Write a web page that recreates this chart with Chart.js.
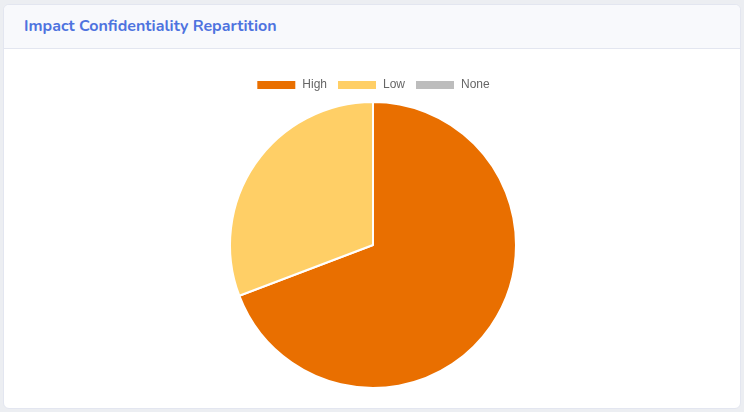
<!DOCTYPE html>
<html>
<head>
<meta charset="utf-8">
<script src="https://cdn.jsdelivr.net/npm/chart.js@4"></script>
<style>
  html, body { margin: 0; padding: 0; background: #eceef2; width: 744px; height: 412px; overflow: hidden; }
  .card { position: absolute; left: 3px; top: 4px; width: 736px; height: 403px; background: #fff; border: 1px solid #e3e6f0; border-radius: 6px; overflow: hidden; }
  .card-header { height: 43px; background: #f8f9fc; border-bottom: 1px solid #e3e6f0; }
  .card-header h6 { margin: 0; padding: 11px 0 0 20px; font-family: Nunito, Lato, "Open Sans", sans-serif; font-weight: 700; font-size: 16px; color: #4e73df; line-height: 20px; }
  .chart-box { position: absolute; left: 20px; top: 64px; width: 698px; height: 320px; }
</style>
</head>
<body>
<div class="card">
  <div class="card-header"><h6>Impact Confidentiality Repartition</h6></div>
  <div class="chart-box"><canvas id="myChart"></canvas></div>
</div>
<script>
var labels = ["High", "Low", "None"];
var counts = [9, 4, 0];
var colors = ["#e96f00", "#ffcf66", "#bdbdbd"];

new Chart(document.getElementById("myChart"), {
  type: 'pie',
  data: {
    labels: labels,
    datasets: [
      {
        data: counts,
        backgroundColor: colors,
        borderColor: '#ffffff',
        borderWidth: 2,
      },
    ],
  },
  options: {
    responsive: true,
    maintainAspectRatio: false,
    animation: false,
    plugins: {
      legend: {
        display: true,
        position: 'top',
        labels: {
          color: '#666',
          boxWidth: 40,
          boxHeight: 10,
          font: { family: "'Helvetica Neue', Helvetica, Arial, sans-serif", size: 12 },
        },
      },
      tooltip: { enabled: false },
    },
  },
});
</script>
</body>
</html>
